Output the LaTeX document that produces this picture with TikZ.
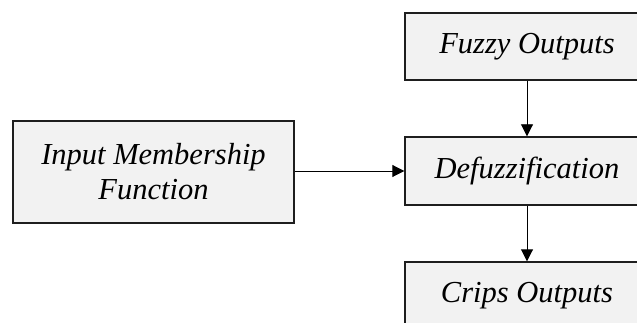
\documentclass[tikz,border=0pt]{standalone}
\usepackage{fontspec}
\setmainfont{Liberation Serif}
\usetikzlibrary{arrows.meta}
\definecolor{boxfill}{RGB}{242,242,242}
\definecolor{edgecol}{RGB}{30,30,30}
\tikzset{
  blockbox/.style={draw=edgecol, line width=1.4pt, fill=boxfill, inner sep=0pt,
    font=\fontsize{30.5}{35}\selectfont\itshape, align=center},
  flow/.style={draw=black, line width=0.9pt, -{Triangle[length=12pt,width=12pt]}}
}
\begin{document}
\begin{tikzpicture}[x=1pt,y=-1pt]
\useasboundingbox (0,0) rectangle (637,323);
\clip (0,0) rectangle (637,323);
\node[blockbox, minimum width=281pt, minimum height=102pt] (inp) at (153.5,172) {Input Membership\\Function};
\node[blockbox, minimum width=244pt, minimum height=67pt] (fuzzy) at (527,46.5) {Fuzzy Outputs};
\node[blockbox, minimum width=244pt, minimum height=68pt] (defuzz) at (527,171) {Defuzzification};
\node[blockbox, minimum width=244pt, minimum height=67pt] (crisp) at (527,295.5) {Crips Outputs};
\draw[flow] (fuzzy) -- (defuzz);
\draw[flow] (defuzz) -- (crisp);
\draw[flow] (inp.east |- defuzz) -- (defuzz.west);
\end{tikzpicture}
\end{document}
